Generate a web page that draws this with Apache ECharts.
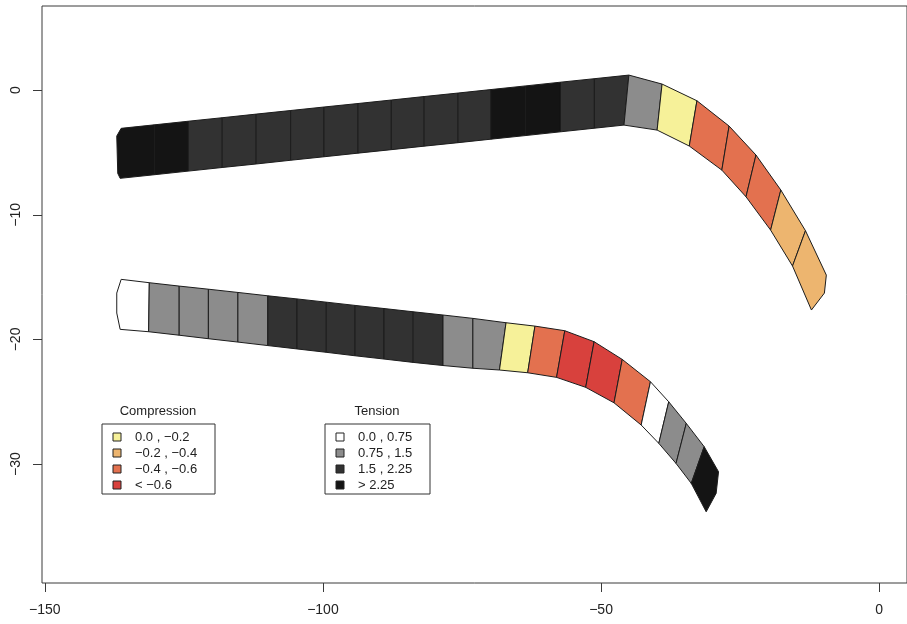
<!DOCTYPE html>
<html><head><meta charset="utf-8">
<script src="https://cdn.jsdelivr.net/npm/echarts@6/dist/echarts.min.js"></script>
<style>html,body{margin:0;padding:0;background:#fff}#c{width:907px;height:624px}</style>
</head><body><div id="c"></div>
<script>
// ---------- data ----------
const xTicks = [-150, -100, -50, 0];
const yTicks = [0, -10, -20, -30];

const categories = ['0.0 , \u22120.2', '\u22120.2 , \u22120.4', '\u22120.4 , \u22120.6', '< \u22120.6',
                    '0.0 , 0.75', '0.75 , 1.5', '1.5 , 2.25', '> 2.25'];
const compressionCats = [0, 1, 2, 3];
const tensionCats = [4, 5, 6, 7];

// upper band: boundary points (top edge and bottom edge)
const upperTop = [[-136.27,-3.07],[-130.3,-2.79],[-124.2,-2.50],[-118.1,-2.22],[-112.0,-1.93],[-105.8,-1.64],[-99.8,-1.36],[-93.7,-1.08],[-87.7,-0.80],[-81.8,-0.52],[-75.7,-0.24],[-69.8,0.04],[-63.6,0.33],[-57.3,0.63],[-51.2,0.91],[-45.0,1.20],[-39.03,0.48],[-32.76,-0.86],[-26.98,-2.89],[-22.15,-5.21],[-17.68,-8.02],[-13.25,-11.28],[-9.5,-14.84]];
const upperBottom = [[-136.45,-7.08],[-130.3,-6.79],[-124.2,-6.50],[-118.1,-6.21],[-112.0,-5.93],[-105.8,-5.63],[-99.8,-5.35],[-93.7,-5.06],[-87.7,-4.78],[-81.8,-4.50],[-75.7,-4.22],[-69.8,-3.94],[-63.6,-3.65],[-57.3,-3.35],[-51.2,-3.06],[-45.88,-2.81],[-39.92,-3.21],[-34.14,-4.49],[-28.29,-6.42],[-23.94,-8.56],[-19.52,-11.23],[-15.58,-14.11],[-12.18,-17.64]];
const upperStartCap = [[-137.06,-3.69],[-136.88,-6.68]];
const upperEndCap = [[-9.85,-16.28]];
const upperSegCat = [7,7,6,6,6,6,6,6,6,6,6,7,7,6,6,5,0,2,2,2,1,1];

// lower band
const lowerTop = [[-136.27,-15.18],[-131.21,-15.45],[-125.84,-15.72],[-120.59,-15.97],[-115.28,-16.23],[-109.91,-16.50],[-104.66,-16.75],[-99.40,-17.01],[-94.21,-17.27],[-89.02,-17.52],[-83.78,-17.78],[-78.41,-18.04],[-73.04,-18.31],[-67.08,-18.66],[-61.88,-18.93],[-56.52,-19.30],[-51.25,-20.18],[-46.19,-21.60],[-41.12,-23.39],[-37.83,-25.0],[-34.68,-26.73],[-31.46,-28.60],[-28.88,-30.61]];
const lowerBottom = [[-136.45,-19.19],[-131.33,-19.38],[-125.84,-19.66],[-120.59,-19.94],[-115.28,-20.21],[-109.91,-20.49],[-104.66,-20.76],[-99.40,-21.03],[-94.21,-21.31],[-89.02,-21.57],[-83.78,-21.84],[-78.41,-22.09],[-73.04,-22.31],[-68.26,-22.45],[-63.19,-22.67],[-58.0,-23.04],[-52.76,-23.84],[-47.67,-25.08],[-42.79,-26.86],[-39.62,-28.33],[-36.52,-29.94],[-33.78,-31.54],[-31.10,-33.82]];
const lowerStartCap = [[-137.06,-16.28],[-137.06,-17.88]];
const lowerEndCap = [[-29.31,-32.34]];
const lowerSegCat = [4,5,5,5,5,6,6,6,6,6,6,5,5,0,2,3,3,2,4,5,5,7];

// ---------- style ----------
const catColors = ['#F6F199','#EDB56F','#E3714F','#D8413D','#FFFFFF','#8C8C8C','#323232','#141414'];
const FONT = '"Liberation Sans", Arial, Helvetica, sans-serif';

function bandSeries(top, bottom, startCap, endCap, segCat) {
  const n = segCat.length;
  return {
    type: 'custom',
    coordinateSystem: 'cartesian2d',
    clip: false,
    silent: true,
    data: segCat.map((c, i) => [i, c]),
    renderItem: function (params, api) {
      const i = api.value(0);
      const c = api.value(1);
      let pts = [top[i], top[i + 1]];
      if (i === n - 1) pts = pts.concat(endCap);
      pts = pts.concat([bottom[i + 1], bottom[i]]);
      if (i === 0) pts = pts.concat(startCap.slice().reverse());
      return {
        type: 'polygon',
        shape: { points: pts.map(p => api.coord(p)) },
        style: { fill: catColors[c], stroke: '#1c1c1c', lineWidth: 1 }
      };
    }
  };
}

function legendBlock(title, cats, x0, w, titleX) {
  const els = [];
  const top = 424, rowH = 16, firstRow = 437;
  els.push({ type: 'text', x: titleX, y: 411, style: { text: title, font: '13px ' + FONT, fill: '#222', textAlign: 'center', textVerticalAlign: 'middle' } });
  els.push({ type: 'rect', shape: { x: x0, y: top, width: w, height: 70 }, style: { fill: 'none', stroke: '#333', lineWidth: 1 } });
  cats.forEach((c, k) => {
    const y = firstRow + rowH * k;
    els.push({ type: 'rect', shape: { x: x0 + 11, y: y - 4, width: 8, height: 8 }, style: { fill: catColors[c], stroke: '#222', lineWidth: 1 } });
    els.push({ type: 'text', x: x0 + 33, y: y, style: { text: categories[c], font: '13px ' + FONT, fill: '#222', textAlign: 'left', textVerticalAlign: 'middle' } });
  });
  return els;
}

const chart = echarts.init(document.getElementById('c'), null, { renderer: 'canvas' });
const legendEls = [].concat(
  legendBlock('Compression', compressionCats, 102, 113, 158),
  legendBlock('Tension', tensionCats, 325, 105, 377)
);

chart.setOption({
  animation: false,
  backgroundColor: '#ffffff',
  grid: { left: 42, top: 6, right: -4, bottom: 41, show: true, borderColor: '#3a3a3a', borderWidth: 1, backgroundColor: 'transparent' },
  xAxis: {
    type: 'value', min: -150.5, max: 5.0,
    splitLine: { show: false },
    axisLine: { show: false, onZero: false },
    axisTick: { show: true, inside: false, length: 9, lineStyle: { color: '#3a3a3a' }, customValues: xTicks },
    axisLabel: { show: true, margin: 20, fontFamily: FONT, fontSize: 14, color: '#222', customValues: xTicks,
      formatter: v => String(v).replace('-', '\u2212') }
  },
  yAxis: {
    type: 'value', min: -39.53, max: 6.74,
    splitLine: { show: false },
    axisLine: { show: false, onZero: false },
    axisTick: { show: true, inside: false, length: 9, lineStyle: { color: '#3a3a3a' }, customValues: yTicks },
    axisLabel: { show: true, rotate: 90, margin: 19, fontFamily: FONT, fontSize: 14, color: '#222', customValues: yTicks,
      formatter: v => String(v).replace('-', '\u2212') }
  },
  series: [
    bandSeries(upperTop, upperBottom, upperStartCap, upperEndCap, upperSegCat),
    bandSeries(lowerTop, lowerBottom, lowerStartCap, lowerEndCap, lowerSegCat)
  ],
  graphic: { elements: legendEls }
});
</script>
</body></html>
